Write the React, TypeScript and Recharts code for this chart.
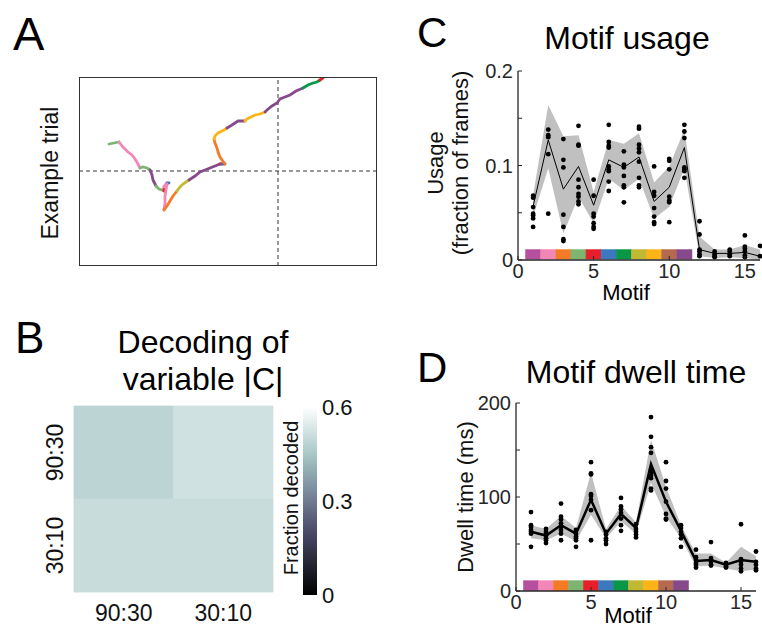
import {
  Area,
  ComposedChart,
  Line,
  ReferenceArea,
  ReferenceLine,
  Scatter,
  ScatterChart,
  XAxis,
  YAxis,
} from "recharts";

const FONT = '"Liberation Sans", Arial, sans-serif';
const INK = "#262626";

// motif palette, index 0 = motif 1
const motifColors = [
  "#b64f9d",
  "#f287b7",
  "#f47a25",
  "#7db46f",
  "#e61f2b",
  "#3b78c0",
  "#079747",
  "#c2b933",
  "#fbb417",
  "#b56a4f",
  "#864a8c",
];

const motifs = [1, 2, 3, 4, 5, 6, 7, 8, 9, 10, 11, 12, 13, 14, 15, 16];

// Motif usage (fraction of frames)
const usageMean = [0.057, 0.127, 0.075, 0.099, 0.058, 0.106, 0.098, 0.109, 0.062, 0.077, 0.119, 0.011, 0.007, 0.007, 0.008, 0.004];
const usageLo = [0.046, 0.097, 0.028, 0.067, 0.039, 0.086, 0.074, 0.086, 0.044, 0.056, 0.097, 0.004, 0.002, 0.003, 0.002, 0.0];
const usageHi = [0.069, 0.164, 0.131, 0.132, 0.072, 0.127, 0.123, 0.134, 0.082, 0.099, 0.138, 0.025, 0.011, 0.011, 0.016, 0.011];
const usageSessions = [
  [0.068, 0.066, 0.056, 0.049, 0.047, 0.044, 0.035],
  [0.138, 0.132, 0.13, 0.112, 0.049],
  [0.128, 0.106, 0.098, 0.048, 0.035, 0.022, 0.02],
  [0.142, 0.122, 0.121, 0.085, 0.077, 0.07, 0.067, 0.062, 0.059],
  [0.085, 0.068, 0.049, 0.046, 0.039, 0.035, 0.033],
  [0.143, 0.125, 0.121, 0.119, 0.099, 0.096, 0.094, 0.083, 0.073],
  [0.115, 0.101, 0.098, 0.089, 0.079, 0.077, 0.061],
  [0.141, 0.139, 0.122, 0.118, 0.114, 0.104, 0.087, 0.079, 0.077],
  [0.099, 0.072, 0.068, 0.055, 0.046, 0.04, 0.038],
  [0.107, 0.105, 0.096, 0.067, 0.063, 0.061, 0.04],
  [0.143, 0.136, 0.129, 0.098, 0.096, 0.094, 0.087],
  [0.041, 0.027, 0.011, 0.009, 0.006, 0.004],
  [0.009, 0.006, 0.004, 0.003],
  [0.011, 0.009, 0.006, 0.004],
  [0.026, 0.014, 0.012, 0.009, 0.005, 0.003],
  [0.015, 0.004],
];

// Motif dwell time (ms)
const dwellMean = [63, 59, 70, 61, 97, 61, 82, 67, 135, 95, 64, 32, 33, 28, 33, 31];
const dwellLo = [56, 54, 61, 53, 81, 56, 74, 61, 115, 79, 56, 26, 27, 24, 21, 23];
const dwellHi = [70, 66, 80, 67, 126, 66, 91, 73, 161, 111, 70, 40, 40, 30, 47, 37];
const dwellSessions = [
  [84, 70, 68, 65, 63, 61, 47],
  [66, 63, 61, 59, 56, 54, 51],
  [93, 79, 76, 72, 69, 65, 61, 54],
  [65, 61, 58, 56, 54, 47],
  [137, 125, 124, 103, 101, 97, 86, 54],
  [63, 60, 56, 54, 50],
  [99, 90, 87, 83, 77, 70, 64],
  [71, 66, 63, 60, 57],
  [185, 164, 153, 147, 129, 125, 123, 120, 109, 107],
  [137, 117, 109, 95, 82, 77, 76],
  [70, 67, 63, 60, 56, 47],
  [44, 36, 33, 30, 28, 25],
  [52, 35, 33, 31, 28, 27],
  [30, 28, 26, 25],
  [71, 34, 31, 28, 24, 21],
  [42, 31, 28, 24, 22],
];

// Decoding of |C|: rows = train condition, cols = test condition
const decodeLabels = ["90:30", "30:10"];
const decodeValues = [
  [0.485, 0.517],
  [0.504, 0.504],
];
const decodeMax = 0.6;
const colorbarTicks = [0, 0.3, 0.6];

// Example trial trajectory, coloured by motif
const trialSegments: { motif: number; path: [number, number][] }[] = [
  { motif: 4, path: [[30, 122], [35, 123], [40, 124]] },
  { motif: 2, path: [[40, 124], [44, 119], [49, 114], [53, 111], [56, 107], [59, 102], [61, 98]] },
  { motif: 4, path: [[61, 98], [64, 99], [68, 98], [71, 96]] },
  { motif: 11, path: [[71, 96], [73, 91], [74, 86], [76, 82], [77, 80]] },
  { motif: 4, path: [[77, 80], [80, 77], [83, 76], [85, 75]] },
  { motif: 5, path: [[85, 75], [85, 79]] },
  { motif: 2, path: [[85, 79], [87, 82], [88, 83]] },
  { motif: 6, path: [[88, 83], [90, 83]] },
  { motif: 2, path: [[88, 82], [87, 76], [86, 70], [86, 63], [85, 56]] },
  { motif: 3, path: [[85, 56], [88, 60], [91, 65], [94, 70], [98, 75]] },
  { motif: 8, path: [[98, 75], [101, 79], [104, 82], [110, 86]] },
  { motif: 11, path: [[110, 86], [116, 90], [121, 94], [126, 96], [131, 98], [136, 100], [141, 102]] },
  { motif: 5, path: [[141, 102], [143, 102]] },
  { motif: 6, path: [[143, 102], [146, 102]] },
  { motif: 3, path: [[146, 102], [143, 106], [141, 109], [139, 114], [138, 118], [136, 123], [135, 127]] },
  { motif: 9, path: [[135, 127], [136, 130], [139, 133], [141, 134], [145, 136], [148, 138]] },
  { motif: 11, path: [[148, 138], [153, 141], [159, 145], [163, 145], [166, 145]] },
  { motif: 9, path: [[166, 145], [168, 147], [172, 149], [176, 151], [181, 152], [186, 154]] },
  { motif: 11, path: [[186, 154], [188, 156], [193, 160], [198, 163], [201, 167], [206, 169], [211, 171], [217, 175], [224, 178]] },
  { motif: 7, path: [[224, 178], [229, 181], [234, 183], [238, 184], [241, 186]] },
  { motif: 5, path: [[241, 186], [244, 188]] },
];
const trialTarget = { x: 199, y: 95 };

// matlab "bone" colormap, t in [0, 1]
function bone(t: number) {
  const c = Math.max(0, Math.min(1, t));
  const r = c < 0.746 ? (0.652 * c) / 0.746 : 0.652 + (0.348 * (c - 0.746)) / 0.254;
  const g =
    c < 0.365
      ? (0.319 * c) / 0.365
      : c < 0.746
        ? 0.319 + (0.463 * (c - 0.365)) / 0.381
        : 0.782 + (0.218 * (c - 0.746)) / 0.254;
  const b = c < 0.365 ? (0.444 * c) / 0.365 : 0.444 + (0.556 * (c - 0.365)) / 0.635;
  const hex = (v: number) => Math.round(v * 255).toString(16).padStart(2, "0");
  return `#${hex(r)}${hex(g)}${hex(b)}`;
}

function Dot(props: any) {
  return <circle cx={props.cx} cy={props.cy} r={2.4} fill="#000" />;
}

function NoShape() {
  return <g />;
}

interface MotifPanelProps {
  left: number;
  top: number;
  width: number;
  height: number;
  margin: { top: number; right: number; bottom: number; left: number };
  yMax: number;
  yTicks: number[];
  yLabelled: number[];
  yFormat: (v: number) => string;
  mean: number[];
  lo: number[];
  hi: number[];
  sessions: number[][];
  lineWidth: number;
  bar: [number, number];
}

const TICK_GAP = 5;

function MotifPanel(p: MotifPanelProps) {
  const rows = motifs.map((m, i) => ({ motif: m, mean: p.mean[i], band: [p.lo[i], p.hi[i]] }));
  const dots = p.sessions.flatMap((vals, i) => vals.map((v) => ({ motif: motifs[i], value: v })));

  const yTick = (t: any) => {
    const v = t.payload.value;
    const ax = t.x + TICK_GAP;
    return (
      <g>
        <line x1={ax} x2={ax + 4} y1={t.y} y2={t.y} stroke={INK} strokeWidth={1} />
        {p.yLabelled.includes(v) && (
          <text x={t.x} y={t.y} dy="0.36em" textAnchor="end" fontSize={20} fill={INK} fontFamily={FONT}>
            {p.yFormat(v)}
          </text>
        )}
      </g>
    );
  };

  const xTick = (t: any) => (
    <g>
      <line x1={t.x} x2={t.x} y1={t.y} y2={t.y - 4} stroke={INK} strokeWidth={1} />
      <text x={t.x} y={t.y} dy={18} textAnchor="middle" fontSize={20} fill={INK} fontFamily={FONT}>
        {t.payload.value}
      </text>
    </g>
  );

  return (
    <div style={{ position: "absolute", left: p.left, top: p.top }}>
      <ComposedChart width={p.width} height={p.height} data={rows} margin={p.margin}>
        <XAxis
          dataKey="motif"
          type="number"
          domain={[0, 16]}
          ticks={[0, 5, 10, 15]}
          interval={0}
          height={30}
          tickSize={0}
          tickMargin={0}
          tickLine={false}
          axisLine={{ stroke: INK, strokeWidth: 1.3 }}
          tick={xTick}
        />
        <YAxis
          type="number"
          domain={[0, p.yMax]}
          ticks={p.yTicks}
          interval={0}
          width={40}
          tickSize={0}
          tickMargin={TICK_GAP}
          tickLine={false}
          axisLine={{ stroke: INK, strokeWidth: 1.3 }}
          tick={yTick}
        />
        <Area
          dataKey="band"
          type="linear"
          fill="#c0c0c0"
          fillOpacity={1}
          stroke="none"
          isAnimationActive={false}
        />
        <Line
          dataKey="mean"
          type="linear"
          stroke="#000"
          strokeWidth={p.lineWidth}
          dot={false}
          isAnimationActive={false}
        />
        <Scatter data={dots} dataKey="value" fill="#000" shape={Dot} isAnimationActive={false} />
        {motifColors.map((c, i) => (
          <ReferenceArea
            key={c}
            x1={i + 0.5}
            x2={i + 1.5}
            y1={p.bar[0]}
            y2={p.bar[1]}
            fill={c}
            fillOpacity={1}
            stroke={c}
            strokeWidth={0.6}
          />
        ))}
      </ComposedChart>
    </div>
  );
}

function TrialPanel() {
  return (
    <div style={{ position: "absolute", left: 79, top: 77, width: 298, height: 189 }}>
      <ScatterChart width={298} height={189} margin={{ top: 0, right: 0, bottom: 0, left: 0 }}>
        <XAxis dataKey="x" type="number" domain={[0, 298]} hide />
        <YAxis dataKey="y" type="number" domain={[0, 189]} hide />
        <ReferenceLine x={trialTarget.x} stroke="#333" strokeDasharray="4 3" strokeWidth={1} />
        <ReferenceLine y={trialTarget.y} stroke="#333" strokeDasharray="4 3" strokeWidth={1} />
        {trialSegments.map((seg, i) => (
          <Scatter
            key={i}
            data={seg.path.map(([x, y]) => ({ x, y }))}
            fill={motifColors[seg.motif - 1]}
            line={{ stroke: motifColors[seg.motif - 1], strokeWidth: 2.8, strokeLinecap: "round" }}
            shape={NoShape}
            isAnimationActive={false}
          />
        ))}
      </ScatterChart>
      <div
        style={{
          position: "absolute",
          inset: 0,
          border: "1.3px solid #333",
          boxSizing: "border-box",
          pointerEvents: "none",
        }}
      />
    </div>
  );
}

function DecodingPanel() {
  const cells = decodeValues.flatMap((row, r) => row.map((v, c) => ({ x: c, y: r, v })));
  const scale = colorbarTicks.map((v) => ({ x: 0.5, y: v }));

  const xTick = (t: any) => (
    <text x={t.x} y={t.y} dy={29} textAnchor="middle" fontSize={23} fill="#111" fontFamily={FONT}>
      {decodeLabels[t.payload.value]}
    </text>
  );
  const yTick = (t: any) => (
    <text
      transform={`translate(${t.x},${t.y}) rotate(-90)`}
      textAnchor="middle"
      fontSize={23}
      fill="#111"
      fontFamily={FONT}
    >
      {decodeLabels[t.payload.value]}
    </text>
  );
  const barTick = (t: any) => (
    <text x={t.x} y={t.y} dy="0.36em" textAnchor="start" fontSize={22} fill="#111" fontFamily={FONT}>
      {t.payload.value === 0 ? "0" : t.payload.value.toFixed(1)}
    </text>
  );

  const stops = [0, 0.365, 0.746, 1];

  return (
    <>
      <div style={{ position: "absolute", left: 0, top: 390 }}>
        <ScatterChart width={290} height={238} margin={{ top: 16, right: 17, bottom: 0, left: 14 }}>
          <XAxis
            dataKey="x"
            type="number"
            domain={[-0.5, 1.5]}
            ticks={[0, 1]}
            interval={0}
            height={36}
            tickSize={0}
            tickMargin={0}
            tickLine={false}
            axisLine={false}
            tick={xTick}
          />
          <YAxis
            dataKey="y"
            type="number"
            domain={[-0.5, 1.5]}
            reversed
            ticks={[0, 1]}
            interval={0}
            width={60}
            tickSize={0}
            tickMargin={11}
            tickLine={false}
            axisLine={false}
            tick={yTick}
          />
          {cells.map((cell) => (
            <ReferenceArea
              key={`${cell.x}-${cell.y}`}
              x1={cell.x - 0.5}
              x2={cell.x + 0.5}
              y1={cell.y - 0.5}
              y2={cell.y + 0.5}
              fill={bone(cell.v / decodeMax)}
              fillOpacity={1}
              stroke={bone(cell.v / decodeMax)}
              strokeWidth={0.8}
            />
          ))}
          <Scatter data={cells} shape={NoShape} isAnimationActive={false} />
        </ScatterChart>
      </div>
      <div style={{ position: "absolute", left: 290, top: 395 }}>
        <ScatterChart width={80} height={215} margin={{ top: 12, right: 3, bottom: 15, left: 13 }}>
          <defs>
            <linearGradient id="boneScale" x1="0" y1="1" x2="0" y2="0">
              {stops.map((s) => (
                <stop key={s} offset={s} stopColor={bone(s)} />
              ))}
            </linearGradient>
          </defs>
          <XAxis dataKey="x" type="number" domain={[0, 1]} hide />
          <YAxis
            dataKey="y"
            orientation="right"
            type="number"
            domain={[0, decodeMax]}
            ticks={colorbarTicks}
            interval={0}
            width={50}
            tickSize={0}
            tickMargin={5}
            tickLine={false}
            axisLine={false}
            tick={barTick}
          />
          <ReferenceArea
            x1={0}
            x2={1}
            y1={0}
            y2={decodeMax}
            fill="url(#boneScale)"
            fillOpacity={1}
            stroke="none"
          />
          <Scatter data={scale} shape={NoShape} isAnimationActive={false} />
        </ScatterChart>
      </div>
    </>
  );
}

function Labels() {
  const plain = [
    { t: "A", x: 13, y: 50, s: 47, a: "start" },
    { t: "B", x: 15, y: 353, s: 44, a: "start" },
    { t: "C", x: 417, y: 47, s: 42, a: "start" },
    { t: "D", x: 417, y: 382, s: 42, a: "start" },
    { t: "Motif usage", x: 627, y: 49, s: 32, a: "middle" },
    { t: "Motif dwell time", x: 636, y: 383, s: 32, a: "middle" },
    { t: "Decoding of", x: 203, y: 353, s: 32, a: "middle" },
    { t: "variable |C|", x: 203, y: 390, s: 32, a: "middle" },
    { t: "Motif", x: 626, y: 300, s: 22, a: "middle" },
    { t: "Motif", x: 628, y: 623, s: 22, a: "middle" },
  ];
  const rotated = [
    { t: "Example trial", x: 58, y: 173, s: 23 },
    { t: "Usage", x: 443, y: 163, s: 22 },
    { t: "(fraction of frames)", x: 468, y: 163, s: 22 },
    { t: "Dwell time (ms)", x: 473, y: 497, s: 22 },
    { t: "Fraction decoded", x: 298, y: 498, s: 20 },
  ];
  return (
    <svg
      width={762}
      height={628}
      style={{ position: "absolute", left: 0, top: 0, pointerEvents: "none" }}
      fontFamily={FONT}
    >
      {plain.map((l, i) => (
        <text key={i} x={l.x} y={l.y} fontSize={l.s} textAnchor={l.a} fill="#000">
          {l.t}
        </text>
      ))}
      {rotated.map((l, i) => (
        <text
          key={`r${i}`}
          transform={`translate(${l.x},${l.y}) rotate(-90)`}
          fontSize={l.s}
          textAnchor="middle"
          fill="#111"
        >
          {l.t}
        </text>
      ))}
    </svg>
  );
}

export default function App() {
  return (
    <div
      style={{
        position: "absolute",
        left: 0,
        top: 0,
        width: 762,
        height: 628,
        background: "#fff",
        fontFamily: FONT,
        overflow: "hidden",
      }}
    >
      <TrialPanel />
      <DecodingPanel />
      <MotifPanel
        left={440}
        top={55}
        width={322}
        height={235}
        margin={{ top: 16, right: 2, bottom: 0, left: 38 }}
        yMax={0.2}
        yTicks={[0, 0.05, 0.1, 0.15, 0.2]}
        yLabelled={[0, 0.1, 0.2]}
        yFormat={(v) => (v === 0 ? "0" : v.toFixed(1))}
        mean={usageMean}
        lo={usageLo}
        hi={usageHi}
        sessions={usageSessions}
        lineWidth={1}
        bar={[0.001, 0.011]}
      />
      <MotifPanel
        left={440}
        top={385}
        width={322}
        height={240}
        margin={{ top: 18, right: 6, bottom: 4, left: 36 }}
        yMax={200}
        yTicks={[0, 50, 100, 150, 200]}
        yLabelled={[0, 100, 200]}
        yFormat={(v) => String(v)}
        mean={dwellMean}
        lo={dwellLo}
        hi={dwellHi}
        sessions={dwellSessions}
        lineWidth={2.5}
        bar={[0.5, 11]}
      />
      <Labels />
    </div>
  );
}
